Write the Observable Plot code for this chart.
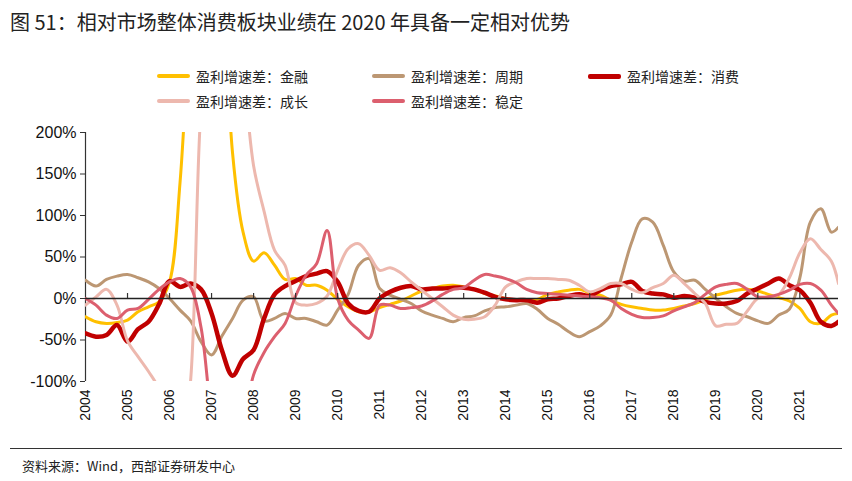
<!DOCTYPE html>
<html><head><meta charset="utf-8">
<script src="https://cdn.jsdelivr.net/npm/d3@7"></script>
<script src="https://cdn.jsdelivr.net/npm/@observablehq/plot@0.6"></script>
<style>
body{margin:0;background:#fff;width:852px;height:481px;position:relative;overflow:hidden;font-family:"Noto Sans CJK SC","Liberation Sans",sans-serif;}
#title{position:absolute;left:10px;top:7px;font-size:20px;color:#222;white-space:nowrap;}
.lg{position:absolute;font-size:14px;color:#222;white-space:nowrap;display:flex;align-items:center;}
.sw{display:inline-block;width:33px;height:4px;margin-right:6px;border-radius:2px;}
#chart{position:absolute;left:0;top:120px;}
#rule{position:absolute;left:10px;top:448px;width:832px;height:0;border-top:1.5px solid #333;}
#src{position:absolute;left:22px;top:456px;font-size:13px;color:#222;white-space:nowrap;}
</style></head>
<body>
<div id="title">图 51：相对市场整体消费板块业绩在 2020 年具备一定相对优势</div>
<div id="legend"></div>
<div id="chart"></div>
<div id="rule"></div>
<div id="src">资料来源：Wind，西部证券研发中心</div>
<script>
const yearTicks = [2004,2005,2006,2007,2008,2009,2010,2011,2012,2013,2014,2015,2016,2017,2018,2019,2020,2021];
const yTicks = [-100,-50,0,50,100,150,200];
const seriesNames = ["盈利增速差：金融","盈利增速差：周期","盈利增速差：消费","盈利增速差：成长","盈利增速差：稳定"];
const seriesColors = ["#FFC000","#BC9773","#C00000","#EDB8AE","#DC5F6E"];
const seriesWidths = [3,3,4.5,3,3];
// quarterly points 2004Q1..2021Q4 plus last point (Dec 2021)
const times = d3.range(72).map(k => 2004 + k/4).concat([2021.92]);

const finance = [-22,-28,-30,-29,-26,-16,-10,-4, 20,140,350,500,550,400,175,80, 45,55,40,23,24,16,16,10, -1,-10,-16,-16,-11,-7,-3,3, 9,12,15,16,14,11,6,3, 0,-2,-2,-1,5,8,10,11, 7,4,-2,-7,-10,-12,-14,-14, -12,-9,-6,-1,4,7,10,11, 9,5,1,-3,-12,-28,-30,-20, -18];
const cyclical = [22,15,23,27,29,25,20,12, 0,-14,-27,-52,-68,-45,-24,-2, 2,-27,-24,-18,-24,-24,-28,-32, -14,5,40,48,12,4,-1,-6, -15,-20,-24,-28,-23,-21,-15,-11, -10,-8,-6,-13,-24,-31,-40,-46, -40,-33,-20,25,68,96,92,64, 32,21,22,11,0,-10,-18,-22, -27,-30,-20,-13,25,92,108,80, 86];
const consumer = [-42,-46,-44,-32,-52,-37,-28,-7, 21,14,18,11,-18,-63,-93,-73, -62,-24,5,15,21,27,30,33, 20,-6,-15,-16,0,8,13,15, 11,12,12,13,13,11,7,2, -1,-2,-2,-5,-1,0,3,5, 3,10,15,17,20,9,6,5, 1,3,1,-4,-6,-6,-3,6, 12,18,24,16,10,-5,-28,-33, -28];
const growth = [-8,2,11,-8,-51,-70,-88,-110, -180,-200,-100,230,350,400,380,280, 160,105,58,40,-5,-8,-6,3, 34,60,66,52,34,37,31,20, 10,0,-10,-20,-25,-25,-22,-8, 14,20,24,24,24,23,22,16, 8,12,18,18,11,7,13,18, 28,18,6,-6,-33,-31,-30,-15, 0,1,5,25,55,72,59,45, 18];
const stable = [0,-8,-20,-24,-14,-12,-1,11, 20,24,14,-35,-140,-200,-220,-160, -92,-65,-46,-30,3,28,42,82, 0,-26,-38,-48,-8,-8,-12,-11, -9,-3,5,11,13,22,29,27, 24,19,11,7,6,5,4,3, 2,1,-2,-12,-19,-23,-23,-21, -15,-10,-5,5,14,17,18,11, 2,2,5,10,17,18,10,-8, -18];

const allSeries = [finance, cyclical, consumer, growth, stable];

// legend
const legPos = [[157,66],[372,66],[588,66],[157,91],[372,91]];
const legend = document.getElementById("legend");
seriesNames.forEach((n,i) => {
  const d = document.createElement("div");
  d.className = "lg";
  d.style.left = legPos[i][0] + "px";
  d.style.top = legPos[i][1] + "px";
  d.innerHTML = `<span class="sw" style="background:${seriesColors[i]};height:${i===2?5:4}px"></span><span>${n}</span>`;
  legend.appendChild(d);
});

const marks = [];
allSeries.forEach((vals, i) => {
  const data = times.map((t, k) => ({t, v: vals[k]}));
  marks.push(Plot.line(data, {x: "t", y: "v", stroke: seriesColors[i], strokeWidth: seriesWidths[i], curve: "catmull-rom", clip: true, strokeLinejoin: "round", strokeLinecap: "round"}));
});

const chart = Plot.plot({
  width: 852,
  height: 301,
  marginTop: 12,
  marginLeft: 85,
  marginRight: 14,
  marginBottom: 40,
  style: {fontFamily: "'Liberation Sans', Arial, sans-serif", fontSize: "15px", color: "#111", background: "#fff"},
  x: {type: "linear", domain: [2004, 2021.92], label: null},
  y: {domain: [-100, 200], label: null},
  marks: [
    Plot.axisY({ticks: yTicks, tickFormat: d => d + "%", tickSize: 5, tickPadding: 4, fontSize: 16, stroke: "#333", label: null}),
    Plot.axisX({ticks: yearTicks, tickFormat: d => String(d), tickRotate: -90, tickSize: 0, tickPadding: 8, fontSize: 14, label: null}),
    Plot.ruleX([2004], {stroke: "#333", strokeWidth: 1.2}),
    ...marks,
    Plot.ruleY([0], {stroke: "#222", strokeWidth: 1.3}),
    Plot.ruleX(yearTicks.slice(1), {x: d => d, y1: 0, y2: 0, insetTop: -5, stroke: "#333", strokeWidth: 1.2})
  ]
});
document.getElementById("chart").appendChild(chart);
</script>
</body></html>
